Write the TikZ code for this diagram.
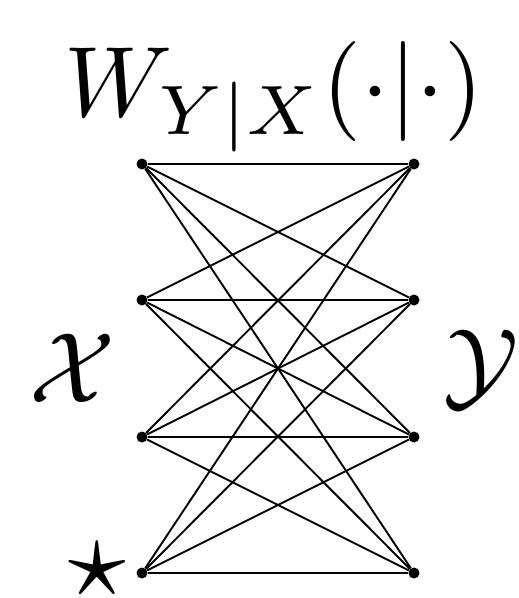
\documentclass[tikz,border=0pt]{standalone}
\tikzset{
  dot/.style={circle,fill=black,inner sep=0pt,minimum size=11pt},
  edge/.style={line width=1.9pt},
  biglabel/.style={inner sep=0pt,scale=10}
}
\begin{document}
\begin{tikzpicture}[x=1pt,y=-1pt]
\useasboundingbox (0,0) rectangle (519,598);
\foreach \i/\y in {1/164,2/300,3/437,4/573}{
  \node[dot] (l\i) at (142,\y) {};
  \node[dot] (r\i) at (414,\y) {};
}
\foreach \i in {1,...,4}{
  \foreach \j in {1,...,4}{
    \draw[edge] (l\i) -- (r\j);
  }
}
\node[biglabel,anchor=base] (w) at (274,116) {$W_{Y|X}(\cdot|\cdot)$};
\node[biglabel] (xl) at (72,368) {$\mathcal{X}$};
\node[biglabel] (yl) at (481,369) {$\mathcal{Y}$};
\node[inner sep=0pt,scale=11.5] (st) at (97,570) {$\star$};
\end{tikzpicture}
\end{document}
